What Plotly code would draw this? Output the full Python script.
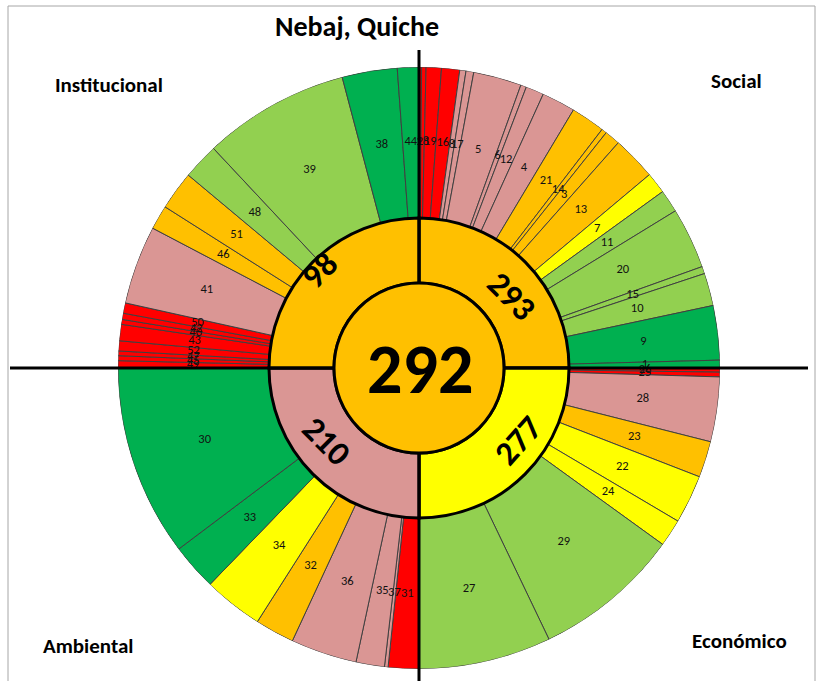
import plotly.graph_objects as go

# ---------------- data ----------------
title_text = "Nebaj, Quiche"
total_score = 292

dim_names = ["Social", "Económico", "Ambiental", "Institucional"]
dim_scores = [293, 277, 210, 98]
dim_colors = ["O", "Y", "P", "O"]

social_labels = ["2", "18", "19", "16", "8", "17", "5", "6", "12", "4", "21", "14", "3", "13",
                 "7", "11", "20", "15", "10", "9", "1"]
social_spans = [0.5, 0.85, 2.95, 3.5, 1.2, 1.5, 9.3, 1.1, 3.5, 6.5, 6.6, 1.0, 3.0, 8.5,
                4.1, 4.4, 11.8, 1.4, 6.3, 10.5, 1.5]
social_colors = ["R", "R", "R", "R", "P", "P", "P", "P", "P", "P", "O", "O", "O", "O",
                 "Y", "LG", "LG", "LG", "LG", "G", "G"]

econ_labels = ["26", "25", "28", "23", "22", "24", "29", "27"]
econ_spans = [0.8, 0.9, 12.5, 7.0, 9.4, 5.3, 28.5, 25.6]
econ_colors = ["R", "R", "P", "O", "Y", "Y", "LG", "LG"]

amb_labels = ["31", "37", "35", "36", "32", "34", "33", "30"]
amb_spans = [5.9, 0.7, 5.5, 12.8, 7.6, 11.5, 9.0, 37.0]
amb_colors = ["R", "P", "P", "P", "O", "Y", "G", "G"]

inst_labels = ["49", "45", "47", "52", "43", "40", "42", "50", "41", "46", "51", "48", "39", "38", "44"]
inst_spans = [1.4, 0.95, 0.9, 1.95, 3.15, 0.95, 1.2, 2.0, 15.2, 4.7, 7.5, 7.0, 28.3, 10.65, 4.15]
inst_colors = ["R", "R", "R", "R", "R", "R", "R", "R", "P", "O", "O", "LG", "LG", "G", "G"]

palette = {"R": "#FF0000", "P": "#DA9694", "O": "#FFC000", "Y": "#FFFF00",
           "LG": "#92D050", "G": "#00B050"}

# ---------------- geometry ----------------
W, H = 819, 681
CX, CY = 419, 368
R_CENTER, R_INNER, R_OUTER = 85, 150, 301
LABEL_R = 226
FONT = "Carlito, Calibri, Lato, sans-serif"

quadrants = [
    (0, social_labels, social_spans, social_colors),
    (90, econ_labels, econ_spans, econ_colors),
    (180, amb_labels, amb_spans, amb_colors),
    (270, inst_labels, inst_spans, inst_colors),
]

thetas, widths, cols, labs = [], [], [], []
for start, labels, spans, colors in quadrants:
    a = start
    for lab, sp, c in zip(labels, spans, colors):
        thetas.append(a + sp / 2)
        widths.append(sp)
        cols.append(palette[c])
        labs.append(lab)
        a += sp

fig = go.Figure()

# outer ring (indicators)
fig.add_trace(go.Barpolar(
    r=[R_OUTER - R_INNER] * len(thetas), base=[R_INNER] * len(thetas),
    theta=thetas, width=widths,
    marker=dict(color=cols, line=dict(color="#404040", width=1)),
    hoverinfo="skip", showlegend=False))

# inner ring (dimensions)
fig.add_trace(go.Barpolar(
    r=[R_INNER - R_CENTER] * 4, base=[R_CENTER] * 4,
    theta=[45, 135, 225, 315], width=[90] * 4,
    marker=dict(color=[palette[c] for c in dim_colors], line=dict(color="black", width=3)),
    hoverinfo="skip", showlegend=False))

# indicator labels
fig.add_trace(go.Scatterpolar(
    r=[LABEL_R] * len(thetas), theta=thetas, mode="text", text=labs,
    textfont=dict(family=FONT, size=12.5, color="#111111"),
    hoverinfo="skip", showlegend=False))

# center circle
fig.add_trace(go.Barpolar(
    r=[R_CENTER], base=[0], theta=[0], width=[360],
    marker=dict(color=palette["O"], line=dict(color="black", width=3)),
    hoverinfo="skip", showlegend=False))

def px(x):
    return x / W

def py(y):
    return 1 - y / H

shapes = [
    dict(type="rect", xref="paper", yref="paper", x0=px(8), x1=px(815), y0=py(690), y1=py(6),
         line=dict(color="#A6A6A6", width=1), layer="below"),
    dict(type="line", xref="paper", yref="paper", x0=px(10), x1=px(CX - R_CENTER), y0=py(CY), y1=py(CY),
         line=dict(color="black", width=3), layer="above"),
    dict(type="line", xref="paper", yref="paper", x0=px(CX + R_CENTER), x1=px(808), y0=py(CY), y1=py(CY),
         line=dict(color="black", width=3), layer="above"),
    dict(type="line", xref="paper", yref="paper", x0=px(CX), x1=px(CX), y0=py(50), y1=py(CY - R_CENTER),
         line=dict(color="black", width=3), layer="above"),
    dict(type="line", xref="paper", yref="paper", x0=px(CX), x1=px(CX), y0=py(CY + R_CENTER), y1=py(690),
         line=dict(color="black", width=3), layer="above"),
]

annotations = [
    dict(text="<b>%s</b>" % title_text, x=px(357), y=py(27), font=dict(family=FONT, size=28, color="black")),
    dict(text="<b>Institucional</b>", x=px(109), y=py(85), font=dict(family=FONT, size=21, color="black")),
    dict(text="<b>Social</b>", x=px(736), y=py(81), font=dict(family=FONT, size=21, color="black")),
    dict(text="<b>Ambiental</b>", x=px(88), y=py(646), font=dict(family=FONT, size=21, color="black")),
    dict(text="<b>Económico</b>", x=px(739), y=py(641), font=dict(family=FONT, size=21, color="black")),
    dict(text="<b>%d</b>" % total_score, x=px(CX + 1), y=py(CY + 1), font=dict(family=FONT, size=70, color="black")),
]
dim_text_pos = [(512, 296, 45), (518, 440, -48), (327, 441, 45), (319, 270, -45)]
for score, (x, y, ang) in zip(dim_scores, dim_text_pos):
    annotations.append(dict(text="<b>%d</b>" % score, x=px(x), y=py(y), textangle=ang,
                            font=dict(family=FONT, size=34, color="black")))
for a in annotations:
    a.update(xref="paper", yref="paper", showarrow=False, xanchor="center", yanchor="middle")

fig.update_layout(
    width=W, height=H, margin=dict(l=0, r=0, t=0, b=0),
    paper_bgcolor="white", plot_bgcolor="white",
    polar=dict(
        domain=dict(x=[px(CX - R_OUTER), px(CX + R_OUTER)], y=[py(CY + R_OUTER), py(CY - R_OUTER)]),
        bgcolor="white", hole=0,
        radialaxis=dict(range=[0, R_OUTER], visible=False),
        angularaxis=dict(rotation=90, direction="clockwise", visible=False),
    ),
    shapes=shapes, annotations=annotations, showlegend=False,
)

fig.write_html("out.html",
               config={"displayModeBar": False},
               post_script="document.body.style.margin='0';document.body.style.padding='0';"
                           "document.body.style.overflow='hidden';")
